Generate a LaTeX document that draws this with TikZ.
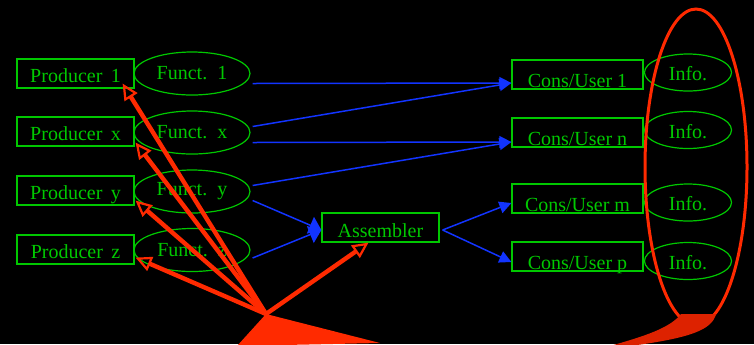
\documentclass[tikz,border=0pt]{standalone}
\usepackage{fontspec}
\setmainfont{Liberation Serif}
\usetikzlibrary{shapes.geometric,arrows.meta,calc}
\definecolor{boxgreen}{HTML}{00C800}
\definecolor{flowblue}{HTML}{1234FF}
\definecolor{markred}{HTML}{FF2A00}
\definecolor{tailred}{HTML}{DD2200}

\tikzset{
  prodbox/.style={draw=boxgreen, text=boxgreen, line width=0.6pt, inner sep=0pt,
    minimum width=58.5pt, minimum height=14.5pt, text height=8.5pt, text depth=0pt},
  consbox/.style={prodbox, minimum width=65.5pt, text height=12.5pt},
  functell/.style={ellipse, draw=boxgreen, text=boxgreen, line width=0.6pt, inner sep=0pt,
    minimum width=58pt, minimum height=21.5pt},
  infoell/.style={functell, minimum width=43.5pt, minimum height=18.5pt,
    text height=8pt, text depth=0pt},
  flow/.style={flowblue, line width=0.75pt, -{Triangle[length=6pt,width=6pt]}},
  merge/.style={flowblue, line width=0.75pt, -{Triangle[length=6pt,width=9pt]}},
  pointer/.style={markred, line width=2.2pt, -{Triangle[open,length=8pt,width=7.5pt,line width=1.1pt]}}
}

\begin{document}
\begin{tikzpicture}[x=0.5pt, y=-0.5pt]
  \fill[black] (0,0) rectangle (754,344);
  \useasboundingbox (0,0) rectangle (754,344);

  % Producers and their functions
  \node[prodbox] (p1) at (75.5,73.5) {Producer\, 1};
  \node[prodbox] (p2) at (75.5,131.5) {Producer\, x};
  \node[prodbox] (p3) at (75.5,190.5) {Producer\, y};
  \node[prodbox] (p4) at (75.5,249.5) {Producer\, z};
  \node[functell] (f1) at (192,73.5) {Funct.\, 1};
  \node[functell] (f2) at (192,132.5) {Funct.\, x};
  \node[functell] (f3) at (192,191.5) {Funct.\, y};
  \node[functell] (f4) at (192,250) {Funct.\, z};

  % Assembler
  \node[prodbox, text height=9.5pt] (asm) at (380.5,227.5) {Assembler};

  % Consumers / users with their info
  \node[consbox] (c1) at (577.5,74.5) {Cons/User 1};
  \node[consbox] (c2) at (577.5,132.5) {Cons/User n};
  \node[consbox] (c3) at (577.5,198.5) {Cons/User m};
  \node[consbox] (c4) at (577.5,256.5) {Cons/User p};
  \node[infoell] (i1) at (688,72.5) {Info.};
  \node[infoell] (i2) at (688,130) {Info.};
  \node[infoell] (i3) at (688,202.5) {Info.};
  \node[infoell] (i4) at (688,261) {Info.};

  % Data flow
  \draw[flow] ($(f1.east)+(2,10)$) -- ($(c1.west)+(0,8.5)$);
  \draw[flow] ($(f2.east)+(2,-6)$) -- ($(c1.west)+(0,8.5)$);
  \draw[flow] ($(f2.east)+(2,10)$) -- ($(c2.west)+(0,9.5)$);
  \draw[flow] ($(f3.east)+(2,-6)$) -- ($(c2.west)+(0,9.5)$);
  \draw[merge] ($(f3.east)+(2,9)$) -- ($(asm.west)+(0,2.5)$);
  \draw[merge] ($(f4.east)+(2,8)$) -- ($(asm.west)+(0,2.5)$);
  \draw[flow] ($(asm.east)+(3,2.5)$) -- ($(c3.west)+(0,4.5)$);
  \draw[flow] ($(asm.east)+(3,2.5)$) -- ($(c4.west)+(0,5.5)$);

  % Red marks: fan of pointers and the ring round the info column
  \coordinate (fan) at (266,314);
  \draw[pointer] (fan) -- ($(p1.south east)+(-12,-5)$);
  \draw[pointer] (fan) -- ($(p2.south east)+(1,-4)$);
  \draw[pointer] (fan) -- ($(p3.south east)+(1,-5)$);
  \draw[pointer] (fan) -- ($(p4.south east)+(1,-7)$);
  \draw[pointer] (fan) -- ($(asm.south)+(-12,0)$);
  \fill[markred] (fan) -- (237,346) -- (380,343) -- cycle;

  \draw[markred, line width=1.5pt] (696,167) ellipse [x radius=51, y radius=158];
  \fill[tailred] (681,314) -- (716,314)
    .. controls (712,330) and (690,338) .. (630,346)
    -- (610,346) .. controls (645,336) and (670,328) .. (681,314) -- cycle;
\end{tikzpicture}
\end{document}
